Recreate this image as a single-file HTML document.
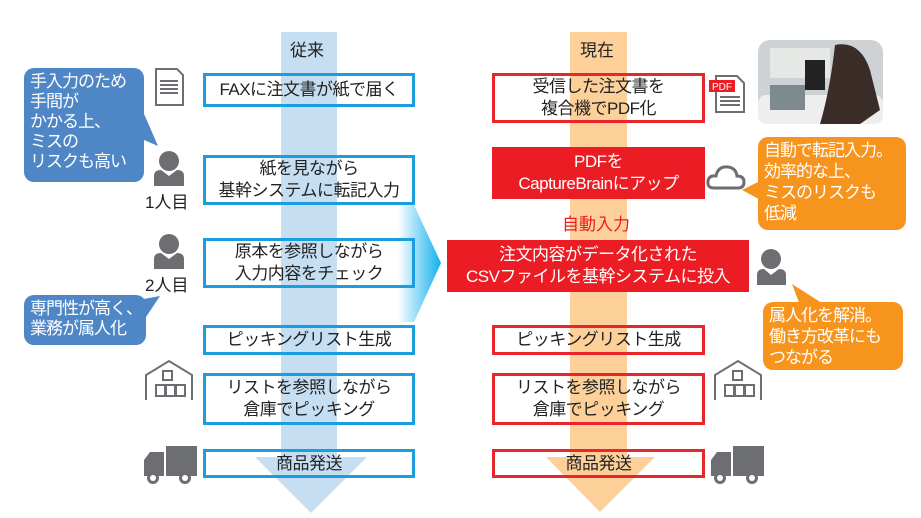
<!DOCTYPE html>
<html><head><meta charset="utf-8"><style>
body{margin:0;width:921px;height:518px;background:#fff;position:relative;overflow:hidden;font-family:"Liberation Sans","Noto Sans CJK JP",sans-serif;color:#222}
.a{position:absolute}
.bx{position:absolute;box-sizing:border-box;border:3px solid #1a9ee0;display:flex;align-items:center;justify-content:center;text-align:center;font-size:17px;line-height:22px;white-space:nowrap;letter-spacing:-0.5px}
.r{border-color:#e8262b}
.f{background:#ec1c24;color:#fff;border-color:#ec1c24}
.bub{position:absolute;border-radius:10px;color:#fff;font-size:17px;line-height:21px;padding:6px 6px;box-sizing:border-box;white-space:nowrap;letter-spacing:-1px}
.lbl{position:absolute;font-size:17px}
</style></head><body>
<svg class="a" style="left:0;top:0" width="921" height="518">
<defs><linearGradient id="g" x1="0" x2="1"><stop offset="0" stop-color="#fff"/><stop offset="1" stop-color="#12b0ee"/></linearGradient></defs>
<rect x="281" y="32" width="56" height="426" fill="#c6def2"/>
<polygon points="255,457 367,457 311,513" fill="#c6def2"/>
<rect x="570" y="32" width="57" height="426" fill="#fdd09a"/>
<polygon points="546,457 655,457 600,512" fill="#fdd09a"/>
<polygon points="398,205 414,205 441,263 414,322 398,322" fill="url(#g)"/>
<polygon points="138,100 144,140 158,146" fill="#4f87c6"/>
<polygon points="138,300 160,296 144,320" fill="#4f87c6"/>
<polygon points="762,180 742,190 770,205" fill="#f7941d"/>
<polygon points="792,284 800,305 825,305" fill="#f7941d"/>
<path d="M156,69 H177 L183,75 V105 H156 Z" fill="#fff" stroke="#6d6e71" stroke-width="2"/>
<g fill="#6d6e71"><rect x="160" y="80" width="18" height="2"/><rect x="160" y="84" width="18" height="2"/><rect x="160" y="88" width="18" height="2"/><rect x="160" y="92" width="18" height="2"/></g>
<g fill="#6d6e71">
<circle cx="169" cy="161" r="10"/><path d="M154,186 V176 Q154,170 161,170 L169,176 L177,170 Q184,170 184,176 V186 Z"/>
<circle cx="169" cy="244" r="10"/><path d="M154,269 V259 Q154,253 161,253 L169,259 L177,253 Q184,253 184,259 V269 Z"/>
<circle cx="771" cy="259" r="10"/><path d="M757,285 V275 Q757,269 764,269 L771,275 L779,269 Q786,269 786,275 V285 Z"/>
</g>
<g fill="none" stroke="#6d6e71" stroke-width="2">
<path d="M146,400 V375 L169,361 L192,375 V400"/><rect x="163" y="371" width="9" height="9"/><rect x="156" y="385" width="9" height="11"/><rect x="166" y="385" width="9" height="11"/><rect x="176" y="385" width="9" height="11"/>
<path d="M715,400 V375 L738,361 L761,375 V400"/><rect x="733" y="371" width="9" height="9"/><rect x="725" y="385" width="9" height="11"/><rect x="735" y="385" width="9" height="11"/><rect x="745" y="385" width="9" height="11"/>
</g>
<g fill="#6d6e71">
<rect x="166" y="446" width="31" height="30"/><path d="M144,476 V460 L150,452 H164 V476 Z"/><circle cx="153" cy="478" r="6"/><circle cx="185" cy="478" r="6"/>
<rect x="733" y="446" width="31" height="30"/><path d="M711,476 V460 L717,452 H731 V476 Z"/><circle cx="720" cy="478" r="6"/><circle cx="752" cy="478" r="6"/>
</g>
<g fill="#fff"><circle cx="153" cy="478" r="3"/><circle cx="185" cy="478" r="3"/><circle cx="720" cy="478" r="3"/><circle cx="752" cy="478" r="3"/></g>
<path d="M716,76 H737 L744,83 V112 H716 Z" fill="#fff" stroke="#6d6e71" stroke-width="2"/>
<g fill="#6d6e71"><rect x="720" y="96" width="20" height="2"/><rect x="720" y="100" width="20" height="2"/><rect x="720" y="104" width="20" height="2"/></g>
<rect x="709" y="80" width="26" height="12" fill="#ec1c24"/>
<text x="722" y="90" font-size="10" fill="#fff" text-anchor="middle" font-family="Liberation Sans">PDF</text>
<path d="M714,188 Q707,188 708,181 Q709,175 716,176 Q718,166 728,167 Q736,168 737,176 Q744,176 744,182 Q744,188 738,188 Z" fill="#fff" stroke="#6d6e71" stroke-width="3"/>
<rect x="758" y="40" width="125" height="84" rx="12" fill="#cfd2d4"/>
<rect x="770" y="48" width="60" height="30" fill="#e6e8e6"/>
<rect x="758" y="95" width="125" height="29" rx="8" fill="#eeeeee"/>
<path d="M835,45 Q860,40 870,70 L880,110 L860,124 H820 Q830,90 835,45Z" fill="#3a2d28"/>
<rect x="770" y="85" width="35" height="25" fill="#7d8a8e"/>
<rect x="805" y="60" width="20" height="30" fill="#222"/>
</svg>
<div class="lbl" style="left:290px;top:36px">従来</div>
<div class="lbl" style="left:580px;top:36px">現在</div>
<div class="bx" style="left:203px;top:73px;width:212px;height:34px">FAXに注文書が紙で届く</div>
<div class="bx" style="left:203px;top:155px;width:212px;height:50px">紙を見ながら<br>基幹システムに転記入力</div>
<div class="bx" style="left:203px;top:238px;width:212px;height:50px">原本を参照しながら<br>入力内容をチェック</div>
<div class="bx" style="left:203px;top:325px;width:212px;height:30px">ピッキングリスト生成</div>
<div class="bx" style="left:203px;top:373px;width:212px;height:52px">リストを参照しながら<br>倉庫でピッキング</div>
<div class="bx" style="left:203px;top:449px;width:212px;height:29px">商品発送</div>
<div class="bx r" style="left:492px;top:73px;width:213px;height:50px">受信した注文書を<br>複合機でPDF化</div>
<div class="bx r f" style="left:492px;top:147px;width:213px;height:52px">PDFを<br>CaptureBrainにアップ</div>
<div class="lbl" style="left:562px;top:210px;color:#ec1c24">自動入力</div>
<div class="bx r f" style="left:447px;top:240px;width:302px;height:52px">注文内容がデータ化された<br>CSVファイルを基幹システムに投入</div>
<div class="bx r" style="left:492px;top:325px;width:213px;height:30px">ピッキングリスト生成</div>
<div class="bx r" style="left:492px;top:373px;width:213px;height:52px">リストを参照しながら<br>倉庫でピッキング</div>
<div class="bx r" style="left:492px;top:449px;width:213px;height:29px">商品発送</div>
<div class="lbl" style="left:145px;top:188px">1人目</div>
<div class="lbl" style="left:145px;top:271px">2人目</div>
<div class="bub" style="left:24px;top:68px;width:120px;height:114px;background:#4f87c6;padding-top:4px;line-height:20px">手入力のため<br>手間が<br>かかる上、<br>ミスの<br>リスクも高い</div>
<div class="bub" style="left:24px;top:295px;width:122px;height:50px;background:#4f87c6;padding-top:4px;line-height:20px">専門性が高く、<br>業務が属人化</div>
<div class="bub" style="left:758px;top:137px;width:148px;height:93px;background:#f7941d;padding-top:3px;line-height:21px">自動で転記入力。<br>効率的な上、<br>ミスのリスクも<br>低減</div>
<div class="bub" style="left:763px;top:302px;width:140px;height:68px;background:#f7941d;padding-top:3px;line-height:21px">属人化を解消。<br>働き方改革にも<br>つながる</div>
</body></html>
